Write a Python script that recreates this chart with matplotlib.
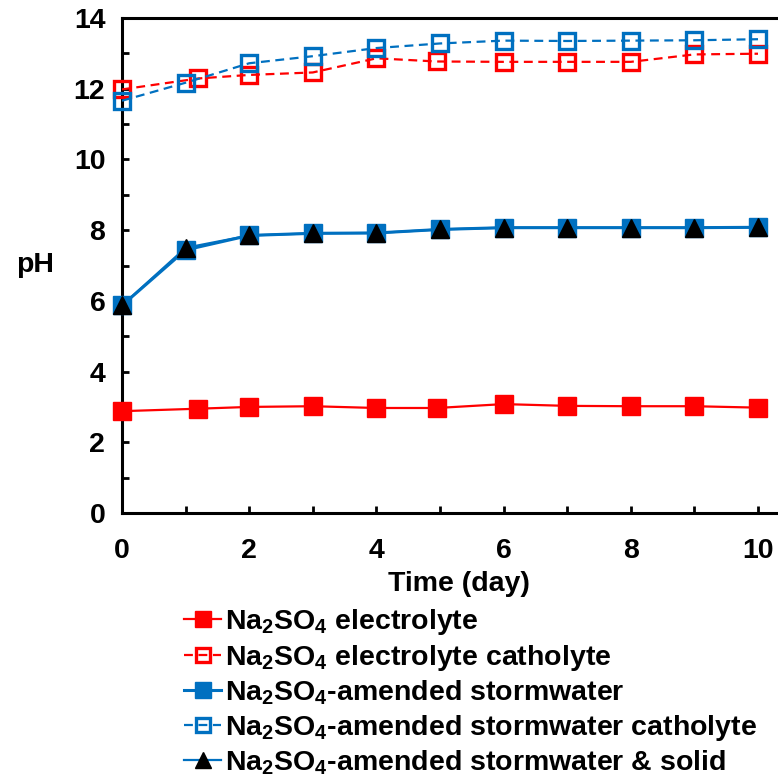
import matplotlib
matplotlib.use("Agg")
import matplotlib.pyplot as plt

plt.rcParams["font.family"] = ["Liberation Sans", "DejaVu Sans"]
plt.rcParams["font.weight"] = "bold"
plt.rcParams["mathtext.fontset"] = "custom"
plt.rcParams["mathtext.bf"] = "Liberation Sans:bold"
plt.rcParams["mathtext.rm"] = "Liberation Sans:bold"
plt.rcParams["mathtext.default"] = "bf"

# Sampling times (day)
t_electrolyte = [0, 1.2, 2, 3, 4, 4.95, 6, 7, 8, 9, 10]
t_stormwater = [0, 1, 2, 3, 4, 5, 6, 7, 8, 9, 10]

# pH readings
ph_electrolyte = [2.88, 2.95, 3.00, 3.02, 2.97, 2.97, 3.08, 3.03, 3.02, 3.02, 2.98]
ph_electrolyte_cath = [11.98, 12.29, 12.39, 12.46, 12.86, 12.77, 12.76, 12.76, 12.76, 12.97, 12.99]
ph_storm = [5.87, 7.44, 7.85, 7.91, 7.92, 8.02, 8.07, 8.07, 8.07, 8.07, 8.08]
ph_storm_cath = [11.66, 12.17, 12.72, 12.92, 13.15, 13.28, 13.36, 13.35, 13.36, 13.37, 13.40]
ph_storm_solid = [5.87, 7.50, 7.85, 7.91, 7.92, 8.02, 8.07, 8.07, 8.07, 8.07, 8.08]

labels = [
    "Na$_2$SO$_4$ electrolyte",
    "Na$_2$SO$_4$ electrolyte catholyte",
    "Na$_2$SO$_4$-amended stormwater",
    "Na$_2$SO$_4$-amended stormwater catholyte",
    "Na$_2$SO$_4$-amended stormwater & solid",
]

RED = "#FF0000"
BLUE = "#0070C0"
FS = 20.5

fig = plt.figure(figsize=(7.78, 7.74), dpi=100)
x0, x1 = 122 / 778, 758 / 778
xmax = 10.6
ax = fig.add_axes([x0, 1 - 513 / 774, (x1 - x0) * xmax / 10, (513 - 18) / 774])

ax.plot(t_electrolyte, ph_electrolyte, color=RED, lw=1.6, marker="s", ms=13,
        mfc=RED, mec=RED, label=labels[0], clip_on=False, zorder=3)
ax.plot(t_electrolyte, ph_electrolyte_cath, color=RED, lw=1.6, ls=(0, (4, 2.5)),
        marker="s", ms=11.5, mfc="none", mec=RED, mew=2.4, label=labels[1],
        clip_on=False, zorder=3)
ax.plot(t_stormwater, ph_storm, color=BLUE, lw=2.2, marker="s", ms=13,
        mfc=BLUE, mec=BLUE, label=labels[2], clip_on=False, zorder=4)
ax.plot(t_stormwater, ph_storm_cath, color=BLUE, lw=1.6, ls=(0, (4, 2.5)),
        marker="s", ms=11.5, mfc="none", mec=BLUE, mew=2.4, label=labels[3],
        clip_on=False, zorder=4)
ax.plot(t_stormwater, ph_storm_solid, color=BLUE, lw=1.6, marker="^", ms=13,
        mfc="black", mec="black", label=labels[4], clip_on=False, zorder=5)

ax.set_xlim(0, xmax)
ax.set_ylim(0, 14)
ax.set_xticks(range(0, 11, 2))
ax.set_xticks(range(0, 11), minor=True)
ax.set_yticks(range(0, 15, 2))
ax.set_yticks(range(0, 15), minor=True)
ax.tick_params(which="both", direction="in", length=5, width=2, labelsize=FS)
ax.tick_params(axis="x", pad=18)
ax.tick_params(axis="y", pad=12)
for s in ax.spines.values():
    s.set_linewidth(2.2)
ax.spines["right"].set_visible(False)

ax.set_xlabel("Time (day)", fontsize=FS, fontweight="bold", labelpad=5)
ax.set_ylabel("pH", fontsize=FS, fontweight="bold", rotation=0, labelpad=28,
              va="center")

handles, labs = ax.get_legend_handles_labels()
fig.legend(handles, labs, loc="upper left", bbox_to_anchor=(184 / 778, 1 - 607 / 774),
           frameon=False, fontsize=FS, handlelength=1.3, handletextpad=0.15,
           labelspacing=0.2, markerscale=0.85, borderpad=0, borderaxespad=0)

fig.savefig("out.png", dpi=100)
